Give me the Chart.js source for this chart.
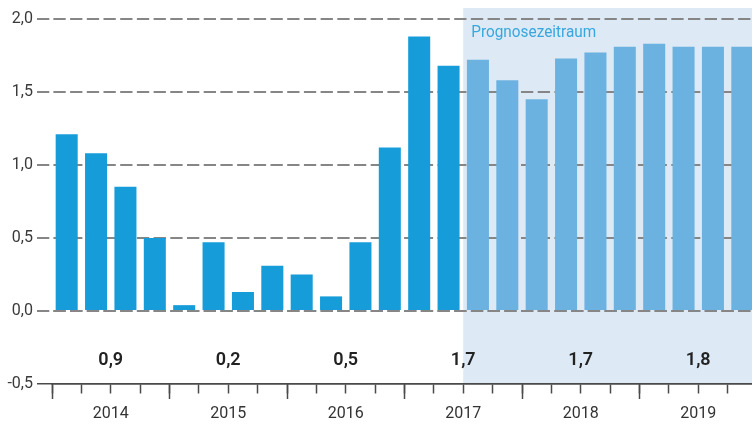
<!DOCTYPE html>
<html lang="de">
<head>
<meta charset="utf-8">
<title>Verbraucherpreise</title>
<script src="https://cdn.jsdelivr.net/npm/chart.js@4"></script>
<style>
  html, body { margin: 0; padding: 0; background: #ffffff; overflow: hidden; }
  #wrap { position: relative; width: 757px; height: 428px; }
</style>
</head>
<body>
<div id="wrap"><canvas id="chart"></canvas></div>
<script>
// Quarterly rates in percent; the last quarters are projections.
const yearLabels = ['2014', '2015', '2016', '2017', '2018', '2019'];
const quarterNames = ['Q1', 'Q2', 'Q3', 'Q4'];
const categories = yearLabels.flatMap(y => quarterNames.map(q => q + ' ' + y));
const actualValues = [1.21, 1.08, 0.85, 0.50, 0.04, 0.47, 0.13, 0.31, 0.25, 0.10, 0.47, 1.12, 1.88, 1.68];
const forecastValues = [1.72, 1.58, 1.45, 1.73, 1.77, 1.81, 1.83, 1.81, 1.81, 1.81];
const annualValues = [0.9, 0.2, 0.5, 1.7, 1.7, 1.8];
const yTicks = [-0.5, 0, 0.5, 1, 1.5, 2];
const forecastLabel = 'Prognosezeitraum';

const Y_MIN = -0.5;
const Y_TOP = 2.075;          // a little headroom above the 2,0 line for the shaded band
const ANNUAL_LEVEL = -0.37;   // baseline of the annual averages row
const GRID_DASH = [12.3, 4.4];
const GRID_COLOR = '#868686';
const AXIS_COLOR = '#4a4a4a';

const fmt = v => v.toFixed(1).replace('.', ',');
const isAxisTick = c => c.tick && Math.abs(c.tick.value - Y_MIN) < 1e-9;
const yearCenter = i => i * quarterNames.length + (quarterNames.length - 1) / 2;

// Light band behind the projection quarters, with its caption.
const forecastShade = {
  id: 'forecastShade',
  beforeDraw(chart) {
    const { ctx, chartArea, scales } = chart;
    const x0 = scales.xYears.getPixelForValue(actualValues.length - 0.5);
    const yBottom = scales.y.getPixelForValue(Y_MIN);
    ctx.save();
    ctx.fillStyle = '#dde9f5';
    ctx.fillRect(x0, chartArea.top, chartArea.right - x0, yBottom - chartArea.top);
    ctx.fillStyle = '#38a7de';
    ctx.font = '17px Roboto';
    ctx.textAlign = 'left';
    ctx.textBaseline = 'alphabetic';
    ctx.fillText(forecastLabel, x0 + 8, chartArea.top + 28.5, 125);
    ctx.restore();
  }
};

// Annual averages written under each year's group of bars.
const annualAverages = {
  id: 'annualAverages',
  afterDatasetsDraw(chart) {
    const { ctx, scales } = chart;
    const y = scales.y.getPixelForValue(ANNUAL_LEVEL);
    ctx.save();
    ctx.font = '600 18px Roboto';
    ctx.fillStyle = '#222222';
    ctx.textAlign = 'center';
    ctx.textBaseline = 'alphabetic';
    annualValues.forEach((v, i) => {
      ctx.fillText(fmt(v), scales.xYears.getPixelForValue(yearCenter(i)), y);
    });
    ctx.restore();
  }
};

new Chart(document.getElementById('chart'), {
  type: 'bar',
  data: {
    labels: categories,
    datasets: [{
      data: actualValues.concat(forecastValues),
      backgroundColor: c => (c.dataIndex < actualValues.length ? '#169cd9' : '#6cb2e0'),
      barPercentage: 0.75,
      categoryPercentage: 1,
      xAxisID: 'x',
      yAxisID: 'y'
    }]
  },
  options: {
    responsive: true,
    maintainAspectRatio: false,
    animation: false,
    layout: { padding: { top: 8, bottom: 44, left: 0, right: 0 } },
    plugins: { legend: { display: false }, tooltip: { enabled: false } },
    scales: {
      y: {
        type: 'linear',
        position: 'left',
        min: Y_MIN,
        max: Y_TOP,
        afterBuildTicks: s => { s.ticks = yTicks.map(v => ({ value: v })); },
        afterFit: s => { s.width = 52; s.paddingTop = 0; s.paddingBottom = 0; },
        ticks: {
          callback: v => fmt(v),
          color: '#3a3a3a',
          font: { family: 'Roboto', size: 16 },
          padding: 4
        },
        grid: {
          color: c => (isAxisTick(c) ? AXIS_COLOR : GRID_COLOR),
          lineWidth: c => (isAxisTick(c) ? 1.5 : 2),
          tickLength: 15,
          tickColor: c => (isAxisTick(c) ? AXIS_COLOR : GRID_COLOR),
          tickWidth: c => (isAxisTick(c) ? 1.5 : 2),
          tickBorderDash: c => (isAxisTick(c) ? [] : GRID_DASH)
        },
        border: {
          display: false,
          dash: c => (isAxisTick(c) ? [] : GRID_DASH),
          dashOffset: 15.3
        }
      },
      yZero: {
        type: 'linear',
        position: 'right',
        min: Y_MIN,
        max: Y_TOP,
        afterBuildTicks: s => { s.ticks = [{ value: 0 }]; },
        afterFit: s => { s.width = 0; s.paddingTop = 0; s.paddingBottom = 0; },
        ticks: { display: false },
        grid: { drawTicks: false, color: GRID_COLOR, lineWidth: 2, z: 1 },
        border: { display: false, dash: GRID_DASH, dashOffset: 15.3 }
      },
      x: {
        type: 'category',
        position: { y: Y_MIN },
        offset: true,
        afterFit: s => { s.paddingLeft = 0; s.paddingRight = 0; },
        ticks: { display: false },
        grid: {
          offset: true,
          drawOnChartArea: false,
          tickLength: 9,
          tickColor: AXIS_COLOR,
          tickWidth: 1.5
        },
        border: { display: true, color: AXIS_COLOR, width: 1.5 }
      },
      xYears: {
        type: 'linear',
        position: { y: Y_MIN },
        offset: false,
        min: -0.5,
        max: categories.length - 0.5,
        afterBuildTicks: s => { s.ticks = yearLabels.map((_, i) => ({ value: yearCenter(i) })); },
        afterFit: s => { s.paddingLeft = 0; s.paddingRight = 0; },
        ticks: {
          callback: (v, i) => yearLabels[i],
          color: '#333333',
          font: { family: 'Roboto', size: 16 },
          padding: 5,
          maxRotation: 0,
          autoSkip: false
        },
        grid: {
          offset: true,
          drawOnChartArea: false,
          tickLength: 15,
          tickColor: AXIS_COLOR,
          tickWidth: 1.5
        },
        border: { display: false }
      }
    }
  },
  plugins: [forecastShade, annualAverages]
});
</script>
</body>
</html>
